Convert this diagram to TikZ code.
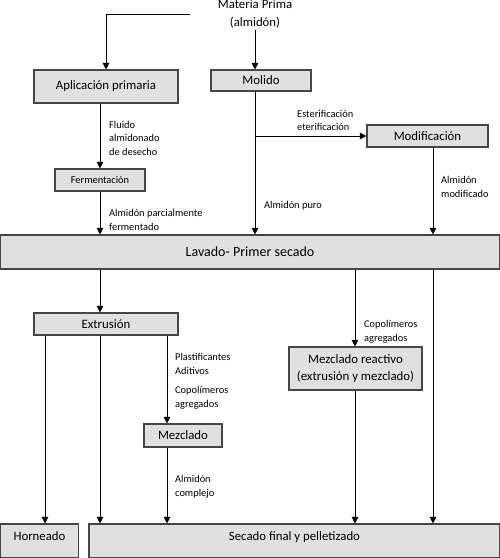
\documentclass[tikz,border=0pt]{standalone}
\usepackage{fontspec}
\setmainfont{Carlito}
\usepackage{tikz}
\usetikzlibrary{arrows.meta}
\definecolor{cajagris}{RGB}{224,224,224}
\definecolor{bordegris}{RGB}{70,70,70}
\begin{document}
\begin{tikzpicture}[x=1pt,y=-1pt,
		caja/.style={draw=bordegris,line width=1.1pt,fill=cajagris,inner sep=0pt,
			font=\fontsize{12.8}{17}\selectfont,align=center},
		cajabaja/.style={caja,minimum height=34pt,text depth=9pt},
		etiq/.style={anchor=west,inner sep=0pt,align=left,font=\fontsize{10.4}{13.5}\selectfont},
		flecha/.style={line width=0.8pt,-{Triangle[length=6.5pt,width=6.5pt]}}]
		\useasboundingbox (0,0) rectangle (500,558);
		% columnas
		\coordinate (c0) at (45,0);
		\coordinate (c1) at (100,0);
		\coordinate (c2) at (167,0);
		\coordinate (c3) at (255,0);
		\coordinate (c4) at (355,0);
		\coordinate (c5) at (433,0);
		
		\node[align=center,inner sep=2pt,font=\fontsize{12.8}{18}\selectfont] (mp) at (255,14) {Materia Prima\\(almidón)};
		\coordinate (mpizq) at (190,14);
		
		\node[caja,minimum width=144pt,minimum height=33pt] (apl) at (106,86.5) {Aplicación primaria};
		\node[caja,minimum width=100pt,minimum height=21pt] (mol) at (261,80.5) {Molido};
		\node[caja,minimum width=90pt,minimum height=22pt,font=\fontsize{10.4}{13}\selectfont] (ferm) at (100,180) {Fermentación};
		\node[caja,minimum width=121pt,minimum height=22pt] (mod) at (427.5,136) {Modificación};
		\node[caja,minimum width=499pt,minimum height=34pt,font=\fontsize{14}{17}\selectfont] (lav) at (250,252) {Lavado- Primer secado};
		\node[caja,minimum width=144pt,minimum height=22pt] (ext) at (106,324) {Extrusión};
		\node[caja,minimum width=78pt,minimum height=23pt] (mez) at (183,435.5) {Mezclado};
		\node[caja,minimum width=133pt,minimum height=43pt] (mr) at (355.5,368.5) {Mezclado reactivo\\(extrusión y mezclado)};
		\node[cajabaja,minimum width=78pt] (horn) at (39.5,541) {Horneado};
		\node[cajabaja,minimum width=411pt] (sec) at (294.5,541) {Secado final y pelletizado};
		
		\node[etiq] (lfluido) at (109,138) {Fluido\\almidonado\\de desecho};
		\node[etiq] (lparcial) at (109,220) {Almidón parcialmente\\fermentado};
		\node[etiq] (lester) at (297,120.5) {Esterificación\\eterificación};
		\node[etiq] (lpuro) at (264,206) {Almidón puro};
		\node[etiq] (lmodif) at (441,187) {Almidón\\modificado};
		\node[etiq] (lplast) at (175,364) {Plastificantes\\Aditivos};
		\node[etiq] (lcopo) at (175,398) {Copolímeros\\agregados};
		\node[etiq] (lcopob) at (364,332) {Copolímeros\\agregados};
		\node[etiq] (lcompl) at (175,487) {Almidón\\complejo};
		
		\draw[flecha] (mpizq) -| (apl.north);
		\draw[flecha] (mp.south -| c3) -- (mol.north -| c3);
		\draw[flecha] (apl.south -| c1) -- (ferm.north -| c1);
		\draw[flecha] (ferm.south -| c1) -- (lav.north -| c1);
		\draw[flecha] (mol.south -| c3) -- (lav.north -| c3);
		\draw[flecha] (mod.west -| c3) -- (mod.west);
		\draw[flecha] (mod.south -| c5) -- (lav.north -| c5);
		
		\draw[flecha] (lav.south -| c1) -- (ext.north -| c1);
		\draw[flecha] (lav.south -| c4) -- (mr.north -| c4);
		\draw[flecha] (lav.south -| c5) -- (sec.north -| c5);
		\draw[flecha] (ext.south -| c0) -- (horn.north -| c0);
		\draw[flecha] (ext.south -| c1) -- (sec.north -| c1);
		\draw[flecha] (ext.south -| c2) -- (mez.north -| c2);
		\draw[flecha] (mez.south -| c2) -- (sec.north -| c2);
		\draw[flecha] (mr.south -| c4) -- (sec.north -| c4);
	\end{tikzpicture}
\end{document}
